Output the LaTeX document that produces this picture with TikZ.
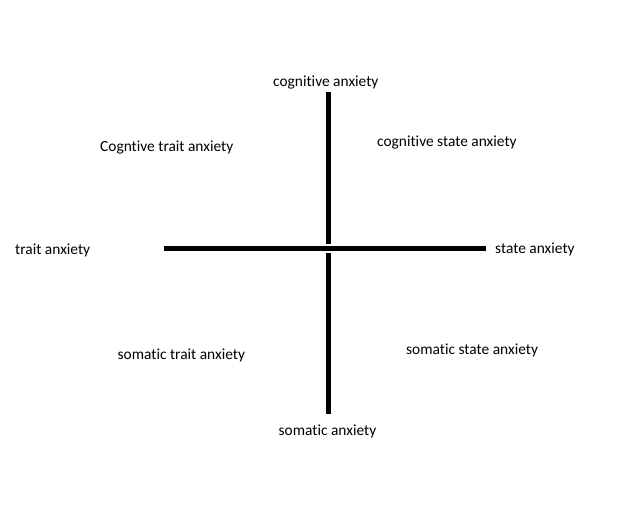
\documentclass[tikz,border=0pt]{standalone}
\usepackage{fontspec}
\setmainfont[Ligatures=NoCommon]{Carlito}
\begin{document}
\begin{tikzpicture}[x=1bp,y=-1bp,
  lbl/.style={anchor=base west,inner sep=0pt,font=\fontsize{15.4bp}{17bp}\selectfont},
  axis/.style={line width=5bp,black}]
\useasboundingbox (0,0) rectangle (634,530);
\coordinate (vt1) at (328.5,92.5);
\coordinate (vt2) at (328.5,244);
\coordinate (hl) at (163.5,248.5);
\coordinate (hr) at (485.5,248.5);
\coordinate (vb1) at (328.5,253);
\coordinate (vb2) at (328.5,413.5);
\draw[axis] (vt1) -- (vt2);
\draw[axis] (hl) -- (hr);
\draw[axis] (vb1) -- (vb2);
\node[lbl] (ca) at (273,86.5) {cognitive anxiety};
\node[lbl] (csa) at (377,146.5) {cognitive state anxiety};
\node[lbl] (cta) at (100,151.5) {Cogntive trait anxiety};
\node[lbl] (ta) at (15,254.5) {trait anxiety};
\node[lbl] (sa) at (495,253.5) {state anxiety};
\node[lbl] (sta) at (117.5,359.5) {somatic trait anxiety};
\node[lbl] (ssa) at (406,354.5) {somatic state anxiety};
\node[lbl] (sma) at (278.5,435) {somatic anxiety};
\end{tikzpicture}
\end{document}
